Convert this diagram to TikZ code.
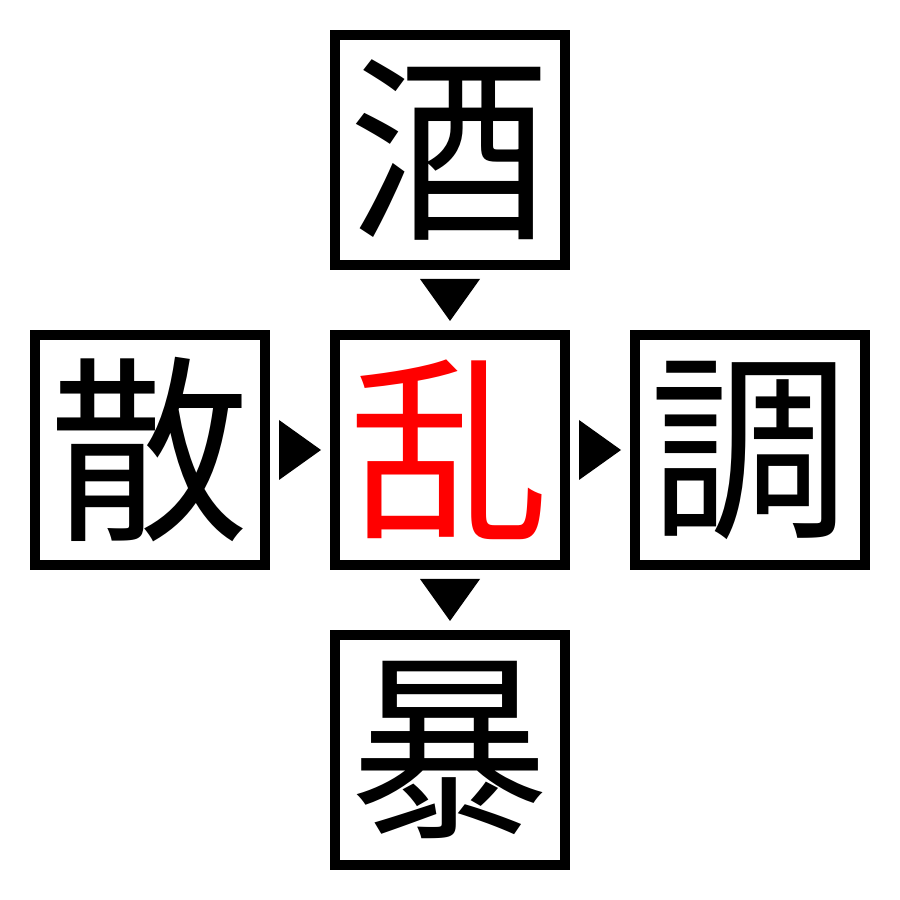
\documentclass[tikz,border=0pt]{standalone}
\usepackage{fontspec}
\newfontfamily\jp{Noto Sans CJK JP}
\usetikzlibrary{calc}
\tikzset{kanji/.style={draw,line width=1mm,minimum size=2.3cm,inner sep=0pt,font=\jp\fontsize{57}{57}\selectfont}}
\begin{document}
\begin{tikzpicture}
	\useasboundingbox (0,0) rectangle (9,9);
	\node[kanji] (top) at (4.5,7.5) {酒};
	\node[kanji,text=red] (mid) at (4.5,4.5) {乱};
	\node[kanji] (lft) at (1.5,4.5) {散};
	\node[kanji] (rgt) at (7.5,4.5) {調};
	\node[kanji] (bot) at (4.5,1.5) {暴};
	\foreach \a/\b/\ang in {top/mid/-90,mid/bot/-90,lft/mid/0,mid/rgt/0}
	\fill[shift={($(\a)!.5!(\b)$)},rotate=\ang] (.21,0)--(-.21,.3)--(-.21,-.3)--cycle;
\end{tikzpicture}
\end{document}
